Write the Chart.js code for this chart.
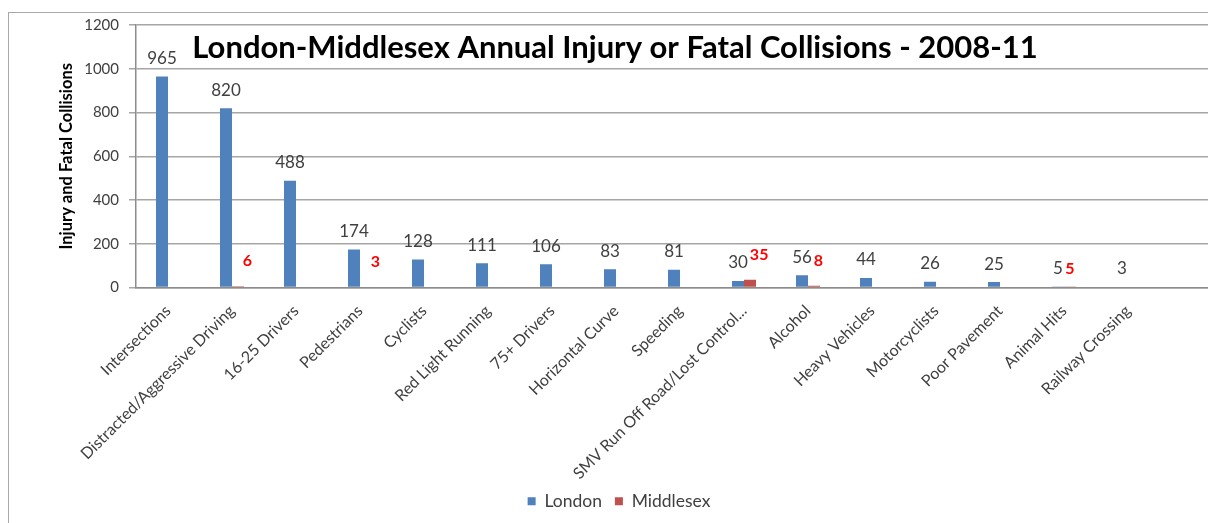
<!DOCTYPE html>
<html>
<head>
<meta charset="utf-8">
<script src="https://cdn.jsdelivr.net/npm/chart.js@4.4.0/dist/chart.umd.min.js"></script>
<style>
  html, body { margin: 0; padding: 0; background: #fff; overflow: hidden; }
  #frame { position: absolute; left: 8px; top: 12px; width: 1300px; height: 600px;
           border-left: 1.5px solid #a8a8a8; border-top: 1.5px solid #a8a8a8; }
  #wrap { position: absolute; left: 0; top: 0; width: 1240px; height: 523px; }
</style>
</head>
<body>
<div id="frame"></div>
<div id="wrap"><canvas id="collisionChart"></canvas></div>
<script>
const categories = ['Intersections', 'Distracted/Aggressive Driving', '16-25 Drivers', 'Pedestrians',
  'Cyclists', 'Red Light Running', '75+ Drivers', 'Horizontal Curve', 'Speeding',
  'SMV Run Off Road/Lost Control...', 'Alcohol', 'Heavy Vehicles', 'Motorcyclists',
  'Poor Pavement', 'Animal Hits', 'Railway Crossing', ''];
const londonValues = [965, 820, 488, 174, 128, 111, 106, 83, 81, 30, 56, 44, 26, 25, 5, 3, null];
const middlesexValues = [null, 6, null, 3, null, null, null, null, null, 35, 8, null, null, null, 5, null, null];
const yTicks = [0, 200, 400, 600, 800, 1000, 1200];

const FONT = 'Lato, "Open Sans", sans-serif';

// value labels above the bars
const barLabels = {
  id: 'barLabels',
  afterDatasetsDraw(chart) {
    const ctx = chart.ctx;
    ctx.save();
    ctx.textAlign = 'center';
    ctx.textBaseline = 'middle';
    const london = chart.getDatasetMeta(0);
    const middle = chart.getDatasetMeta(1);
    const lastRight = {};
    london.data.forEach((bar, i) => {
      const v = londonValues[i];
      if (v == null) return;
      ctx.font = '17px ' + FONT;
      ctx.fillStyle = '#404040';
      const txt = String(v);
      ctx.fillText(txt, bar.x, bar.y - 18);
      lastRight[i] = bar.x + ctx.measureText(txt).width / 2;
    });
    middle.data.forEach((bar, i) => {
      const v = middlesexValues[i];
      if (v == null) return;
      ctx.font = 'bold 16px ' + FONT;
      ctx.fillStyle = '#ff0000';
      const txt = String(v);
      const w = ctx.measureText(txt).width;
      let x = bar.x;
      let y = bar.y - 18;
      if (lastRight[i] != null && x - w / 2 < lastRight[i] + 1) {
        x = lastRight[i] + 2 + w / 2;
        y -= 7;
      }
      ctx.fillText(txt, x, y);
    });
    ctx.restore();
  }
};

// chart title sits inside the plot area
const plotTitle = {
  id: 'plotTitle',
  afterDraw(chart) {
    const ctx = chart.ctx;
    ctx.save();
    ctx.font = 'bold 31px ' + FONT;
    ctx.fillStyle = '#000';
    ctx.textAlign = 'center';
    ctx.textBaseline = 'middle';
    ctx.fillText('London-Middlesex Annual Injury or Fatal Collisions - 2008-11', 615, 48);
    ctx.restore();
  }
};

new Chart(document.getElementById('collisionChart'), {
  type: 'bar',
  data: {
    labels: categories,
    datasets: [
      { label: 'London', data: londonValues, backgroundColor: '#4f81bd',
        categoryPercentage: 0.375, barPercentage: 1 },
      { label: 'Middlesex', data: middlesexValues, backgroundColor: '#c0504d',
        categoryPercentage: 0.375, barPercentage: 1 }
    ]
  },
  options: {
    responsive: true,
    maintainAspectRatio: false,
    animation: false,
    layout: { padding: { top: 25, right: 16, bottom: 3, left: 14 } },
    plugins: {
      legend: {
        position: 'bottom',
        labels: {
          boxWidth: 8, boxHeight: 8, padding: 13,
          color: '#404040', font: { family: FONT, size: 17.5 }
        }
      },
      tooltip: { enabled: false }
    },
    scales: {
      x: {
        grid: { display: false, drawTicks: false },
        border: { color: '#8c8c8c', width: 1.5 },
        ticks: {
          autoSkip: false, minRotation: 45, maxRotation: 45, padding: 14,
          color: '#404040', font: { family: FONT, size: 16 }
        },
        afterFit(scale) { scale.height = 192; }
      },
      y: {
        min: 0, max: 1200,
        afterBuildTicks(scale) { scale.ticks = yTicks.map(v => ({ value: v })); },
        grid: { color: '#a6a6a6', lineWidth: 1.5, tickLength: 7 },
        border: { color: '#8c8c8c', width: 1.5 },
        ticks: {
          padding: 10, color: '#404040', font: { family: FONT, size: 15 },
          callback: v => String(v)
        },
        title: {
          display: true, text: 'Injury and Fatal Collisions', color: '#000',
          font: { family: FONT, size: 16.5, weight: 'bold' }, padding: { top: 43, bottom: 0 }
        },
        afterFit(scale) { scale.width = 122; }
      }
    }
  },
  plugins: [barLabels, plotTitle]
});
</script>
</body>
</html>
